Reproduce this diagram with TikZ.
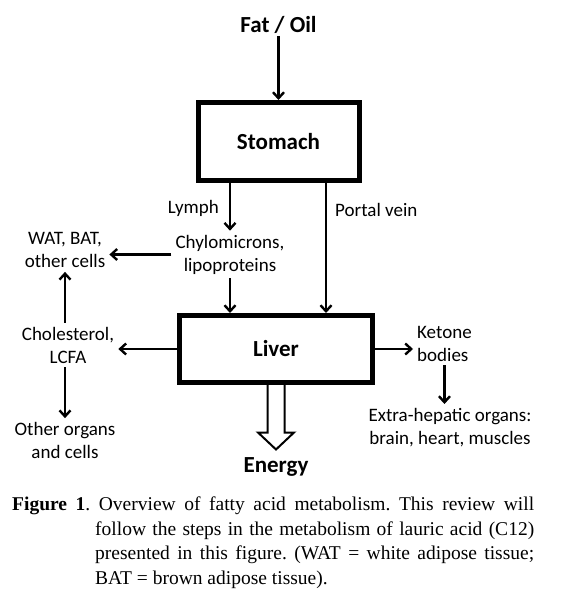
\documentclass[tikz,border=0pt]{standalone}
\usepackage{fontspec}
\setmainfont{Liberation Serif}
\newfontfamily\calibri{Carlito}
\usetikzlibrary{
    arrows.meta,
    calc,
    positioning
}

\begin{document}
\begin{tikzpicture}[x=1pt, y=-1pt,
                        >={Straight Barb[length=6pt, width=11pt]},
                        organ/.style={draw, line width=5pt, inner sep=0pt},
                        txt/.style={align=center, inner sep=4pt, font=\calibri\fontsize{19}{23}\selectfont},
                        bold/.style={inner sep=2pt, font=\calibri\bfseries\fontsize{23}{27}\selectfont}]
                        \useasboundingbox (0,0) rectangle (562,593);

                        \node[bold] (fat) at (278.5,25) {Fat / Oil};
                        \node[organ, bold, minimum width=161pt, minimum height=78pt] (stomach) at (278.5,141.5) {Stomach};
                        \node[organ, bold, minimum width=193pt, minimum height=67pt] (liver) at (276,349) {Liver};
                        \node[txt] (chylo) at (230,254.5) {Chylomicrons,\\lipoproteins};
                        \node[txt] (wat) at (65,250) {WAT, BAT,\\other cells};
                        \node[txt] (chol) at (68,345) {Cholesterol,\\LCFA};
                        \node[txt] (other) at (65,440.5) {Other organs\\and cells};
                        \node[txt, anchor=west, align=left] (ketone) at (413,343.5) {Ketone\\bodies};
                        \node[txt] (extra) at (450,427.5) {Extra-hepatic organs:\\brain, heart, muscles};
                        \node[bold] (energy) at (276,467) {Energy};
                        \coordinate (pv) at (326,0);

                        \draw[line width=2.4pt]
                        (fat) edge[->] (stomach)
                        (stomach.south -| chylo) edge[->] (chylo)
                        (stomach.south -| pv) edge[->] (liver.north -| pv)
                        (chylo) edge[->] (liver.north -| chylo)
                        (chylo.west) edge[->] (chylo.west -| wat.east)
                        (liver.west) edge[->] (liver.west -| chol.east)
                        (chol.north -| wat) edge[->] (wat.south)
                        (chol.south -| other) edge[->] (other.north)
                        (liver.east) edge[->] (liver.east -| ketone.west)
                        (ketone.south) edge[->] (ketone.south |- extra.north);

                        % hollow arrow to energy
                        \draw[line width=2pt, line join=miter]
                        ($(liver.south)+(-8.5,0)$) -- ($(liver.south)+(-8.5,47.5)$)
                        -- ($(liver.south)+(-18,47.5)$) -- ($(liver.south)+(0,64.5)$)
                        -- ($(liver.south)+(18,47.5)$) -- ($(liver.south)+(8.5,47.5)$)
                        -- ($(liver.south)+(8.5,0)$);

                        \node[txt, anchor=east] (lymph) at (223,208) {Lymph};
                        \node[txt, anchor=west] (portal) at (331,210) {Portal vein};

                        \node[anchor=north west, inner sep=0pt,
                        font=\fontsize{19.5}{24.5}\selectfont] (caption) at (12,497)
                        {\parbox{522pt}{\frenchspacing\hangindent=83pt\hangafter=1
                        \textbf{Figure 1}. Overview of fatty acid metabolism. This review will\linebreak
                        follow the steps in the metabolism of lauric acid (C12)\linebreak
                        presented in this figure. (WAT = white adipose tissue;\linebreak
                        BAT = brown adipose tissue).}};
                    \end{tikzpicture}
\end{document}
